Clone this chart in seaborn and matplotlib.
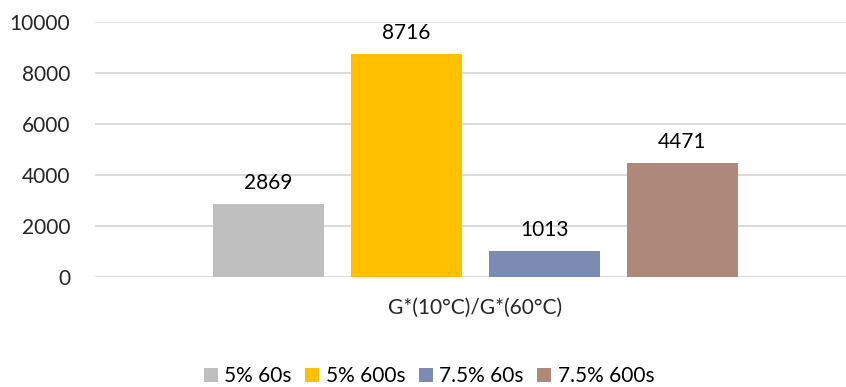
import matplotlib
matplotlib.use('Agg')
import matplotlib.pyplot as plt
import seaborn as sns
import pandas as pd

category = "G*(10°C)/G*(60°C)"
series = ["5% 60s", "5% 600s", "7.5% 60s", "7.5% 600s"]
values = [2869, 8716, 1013, 4471]
colors = ["#BFBFBF", "#FFC000", "#7C8BB3", "#AE8878"]

df = pd.DataFrame({"Category": [category] * len(series), "Series": series, "Value": values})

sns.set_style("white")
plt.rcParams['font.family'] = ['Lato', 'DejaVu Sans']
plt.rcParams['text.color'] = '#000000'

fig = plt.figure(figsize=(8.46, 3.87), dpi=100)
ax = fig.add_axes([95 / 846, 1 - 277 / 387, 761 / 846, 255.5 / 387])

sns.barplot(data=df, x="Category", y="Value", hue="Series", hue_order=series,
            palette=dict(zip(series, colors)), width=0.725, gap=0.2, ax=ax,
            saturation=1, edgecolor='none')

for c in ax.containers:
    ax.bar_label(c, fmt='%d', padding=8, fontsize=15)

ax.set_ylim(0, 10000)
ax.set_yticks(range(0, 10001, 2000))
ax.set_xlim(-0.5, 0.5)
ax.yaxis.grid(True, color='#D9D9D9', linewidth=1.3)
ax.set_axisbelow(True)
for s in ax.spines.values():
    s.set_visible(False)
ax.tick_params(axis='y', length=0, pad=18, labelsize=15)
ax.tick_params(axis='x', length=0, pad=15, labelsize=15)
ax.set_xlabel("")
ax.set_ylabel("")

handles, labels = ax.get_legend_handles_labels()
ax.get_legend().remove()
fig.legend(handles, labels, loc='center', bbox_to_anchor=(429 / 846, 1 - 376 / 387),
           ncol=4, frameon=False, fontsize=15, handlelength=0.68, handleheight=0.68,
           handletextpad=0.3, columnspacing=0.65)

fig.savefig("out.png", dpi=100)
